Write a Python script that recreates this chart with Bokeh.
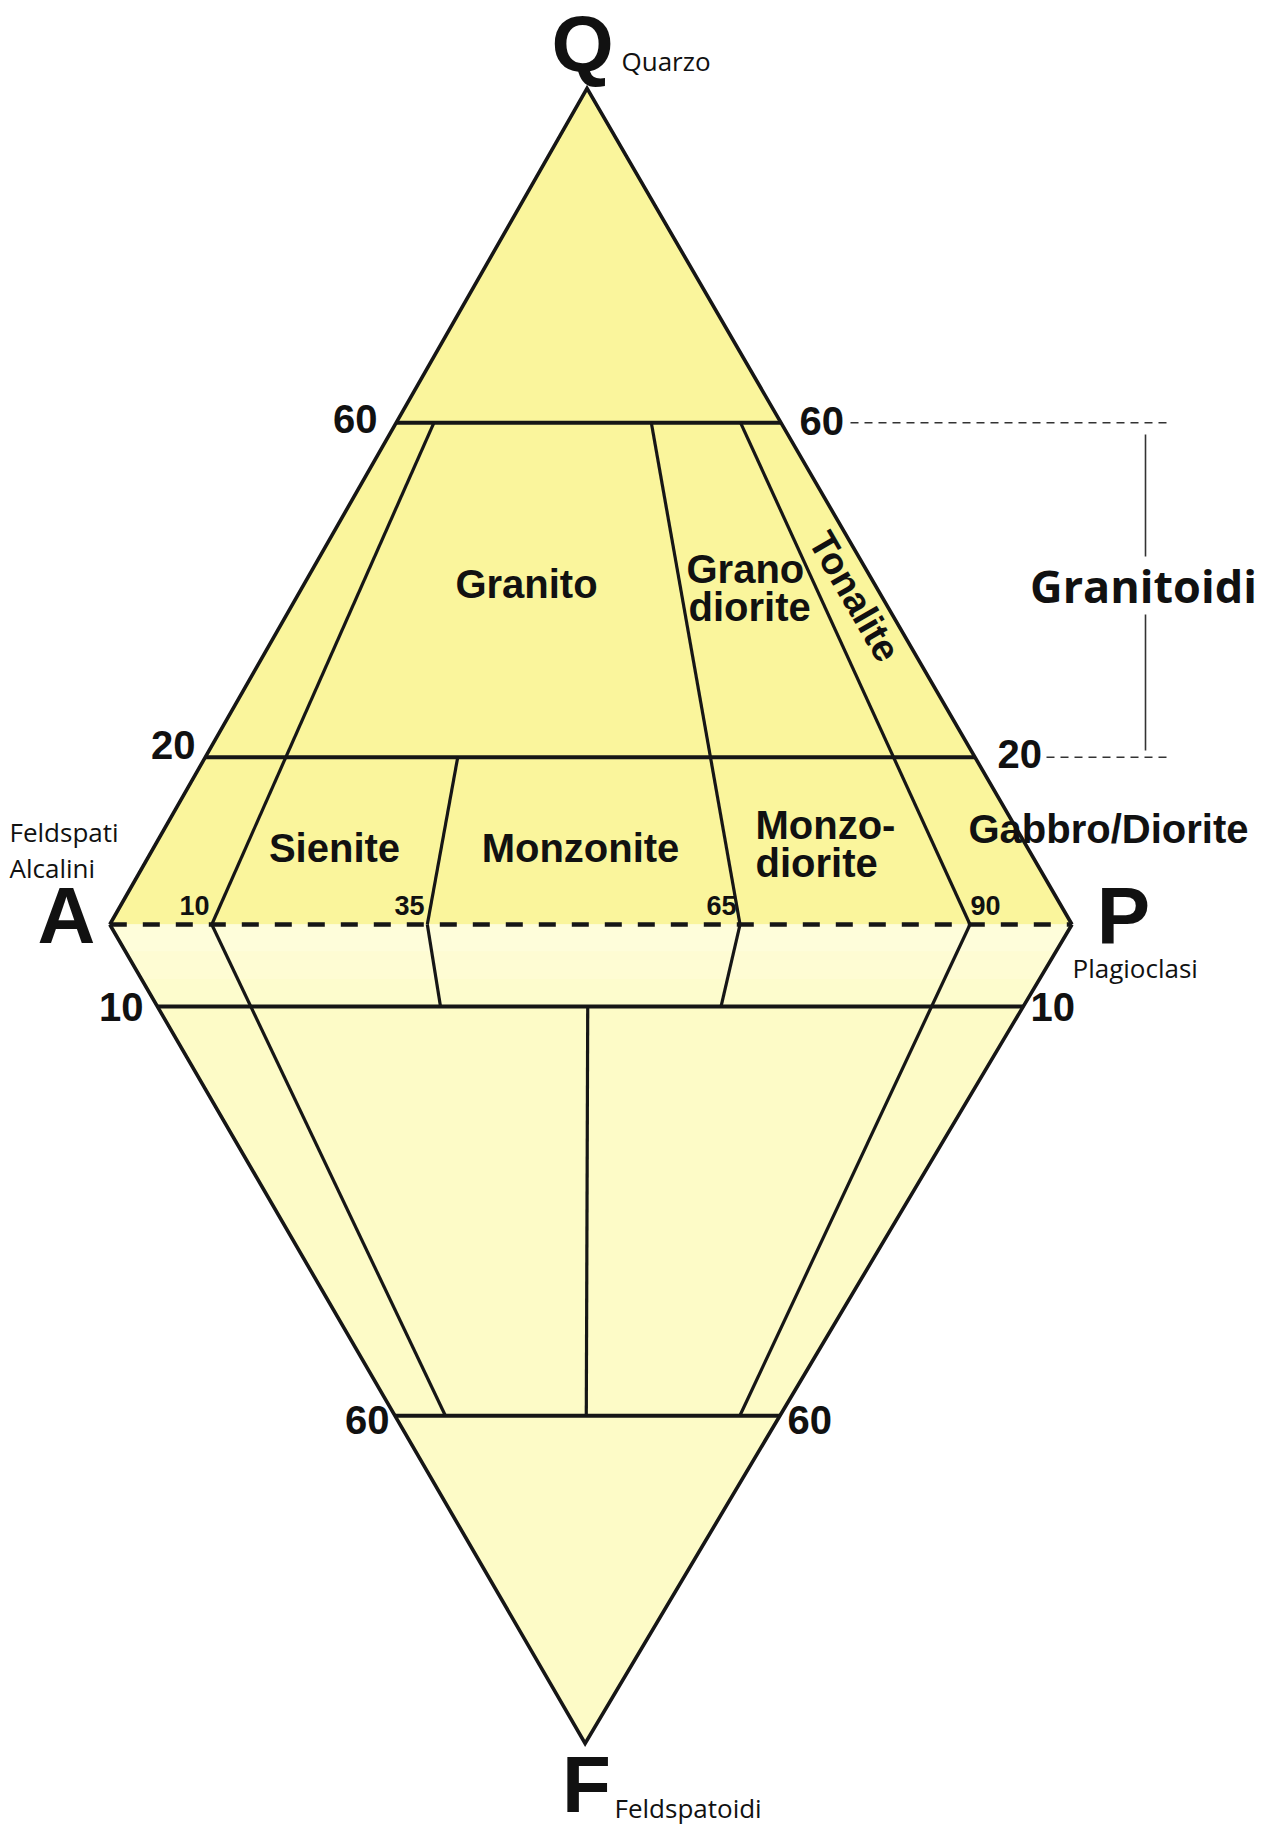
import numpy as np
from bokeh.plotting import figure
from bokeh.models import Range1d
from bokeh.embed import file_html
from bokeh.resources import INLINE
from bokeh.core.properties import value

# ---------------- data ----------------
# Ternary QAPF diagram. z > 0 : % Quarzo (upper triangle), z < 0 : -% Feldspatoidi (lower)
# r = 100 * P / (A + P)
q_levels = [60, 20]                 # horizontal boundaries, upper triangle
f_levels = [10, 60]                 # horizontal boundaries, lower triangle
ap_ticks = [10, 35, 65, 90]         # ratio ticks written on the A-P line
# boundary segments (z0, r0, z1, r1) as drawn
upper_seg_z0 = [0, 0, 0, 0]
upper_seg_r0 = [10.6, 33.0, 65.5, 89.4]
upper_seg_z1 = [60, 20, 60, 60]
upper_seg_r1 = [9.8, 32.8, 66.3, 89.5]
lower_seg_z0 = [0, 0, 0, 0, -10]
lower_seg_r0 = [10.6, 33.0, 65.5, 89.4, 49.7]
lower_seg_z1 = [-60, -10, -10, -60, -60]
lower_seg_r1 = [13.1, 32.7, 65.1, 89.6, 49.7]

vertex_letters = ["Q", "A", "P", "F"]
vertex_names = ["Quarzo", "Feldspati\nAlcalini", "Plagioclasi", "Feldspatoidi"]
field_names = ["Granito", "Grano\ndiorite", "Tonalite", "Sienite", "Monzonite",
               "Monzo-\ndiorite", "Gabbro/Diorite"]
group_name = "Granitoidi"
group_range = [60, 20]

# ---------------- geometry / layout ----------------
S = 9.622                   # page px per diagram unit (A-P = 100 units)
ORX, ORY = 109.3, 924.0     # page position of vertex A
W, H = 1263, 1843
A = (0.0, 0.0)
P = (100.0, 0.0)
Q = (49.6, 86.9)
F = (49.4, -85.1)


def pg(x, y):
    """page pixel -> data"""
    return ((x - ORX) / S, (ORY - y) / S)


def tern(z, r):
    apex = Q if z >= 0 else F
    t = abs(z) / 100.0
    bx = A[0] + r / 100.0 * (P[0] - A[0])
    return (t * apex[0] + (1 - t) * bx, t * apex[1])


p = figure(width=W, height=H, output_backend="svg", toolbar_location=None,
           x_range=Range1d((0 - ORX) / S, (W - ORX) / S),
           y_range=Range1d((ORY - H) / S, (ORY - 0) / S),
           min_border=0)
p.axis.visible = False
p.grid.visible = False
p.outline_line_color = None
p.background_fill_color = "white"
p.border_fill_color = "white"

UP_FILL = "#FAF59C"
LOW_FILL = "#FDFBC7"
INK = "#161616"

# fills
p.patch([A[0], Q[0], P[0]], [A[1], Q[1], P[1]], fill_color=UP_FILL, line_color=None)
p.patch([A[0], F[0], P[0]], [A[1], F[1], P[1]], fill_color=LOW_FILL, line_color=None)
# lighter band between the A-P line and the F = 10 line (fading toward the bottom)
band_cols = ["#FEFDDA", "#FEFCD3", "#FDFCCD"]
for i, c in enumerate(band_cols):
    z0, z1 = -i * 10 / len(band_cols), -(i + 1) * 10 / len(band_cols)
    a0, b0, b1, a1 = tern(z0, 0), tern(z0, 100), tern(z1, 100), tern(z1, 0)
    p.patch([a0[0], b0[0], b1[0], a1[0]], [a0[1], b0[1], b1[1], a1[1]],
            fill_color=c, line_color=None)

# horizontal boundaries
xs, ys = [], []
for z in q_levels:
    a, b = tern(z, 0), tern(z, 100)
    xs.append([a[0], b[0]]); ys.append([a[1], b[1]])
for f in f_levels:
    a, b = tern(-f, 0), tern(-f, 100)
    xs.append([a[0], b[0]]); ys.append([a[1], b[1]])
p.multi_line(xs, ys, line_color=INK, line_width=4)

# inner boundaries
xs, ys = [], []
for z0, r0, z1, r1 in zip(upper_seg_z0, upper_seg_r0, upper_seg_z1, upper_seg_r1):
    a, b = tern(z0, r0), tern(z1, r1)
    xs.append([a[0], b[0]]); ys.append([a[1], b[1]])
for z0, r0, z1, r1 in zip(lower_seg_z0, lower_seg_r0, lower_seg_z1, lower_seg_r1):
    a, b = tern(z0, r0), tern(z1, r1)
    xs.append([a[0], b[0]]); ys.append([a[1], b[1]])
p.multi_line(xs, ys, line_color=INK, line_width=3.2)

# outline
p.line([A[0], Q[0], P[0]], [A[1], Q[1], P[1]], line_color=INK, line_width=3.6, line_join="miter")
p.line([A[0], F[0], P[0]], [A[1], F[1], P[1]], line_color=INK, line_width=3.6, line_join="miter")
# dashed A-P
p.line([A[0], P[0]], [A[1], P[1]], line_color=INK, line_width=4.5, line_dash="17 16")

# Granitoidi bracket on the right
gx0, gx1 = pg(850, 0)[0], pg(1168, 0)[0]
gy_top = tern(group_range[0], 100)[1]
gy_bot = tern(group_range[1], 100)[1]
p.line([gx0, gx1], [gy_top, gy_top], line_color="#333333", line_width=1.6, line_dash="8 6")
p.line([pg(1046, 0)[0], gx1], [gy_bot, gy_bot], line_color="#333333", line_width=1.6, line_dash="8 6")
bx = pg(1145, 0)[0]
p.line([bx, bx], [pg(0, 434)[1], pg(0, 556)[1]], line_color="#333333", line_width=1.6)
p.line([bx, bx], [pg(0, 614)[1], pg(0, 750)[1]], line_color="#333333", line_width=1.6)

BASE_SHIFT = 0.39   # renderer puts the alphabetic baseline ~0.39 em lower


def txt(s, x, y, size, align="left", font="Liberation Sans", style="bold",
        baseline="alphabetic", angle=0, color="#111111"):
    if baseline == "alphabetic":
        y = y - BASE_SHIFT * size
    dx, dy = pg(x, y)
    p.text([dx], [dy], text=[s], text_font=value(font), text_font_style=style,
           text_font_size=f"{size}px", text_align=align, text_baseline=baseline,
           angle=angle, angle_units="deg", text_color=color)


# vertex letters and names
NS = 26
txt(vertex_letters[0], 582, 74, 80, align="center")
txt(vertex_names[0], 621, 71, NS, font="Open Sans", style="normal")
txt(vertex_letters[1], 66, 946, 80, align="center")
n1, n2 = vertex_names[1].split("\n")
txt(n1, 9, 842, NS, font="Open Sans", style="normal")
txt(n2, 9, 878, NS, font="Open Sans", style="normal")
txt(vertex_letters[2], 1123, 946, 80, align="center")
txt(vertex_names[2], 1072, 978, NS, font="Open Sans", style="normal")
txt(vertex_letters[3], 586, 1815, 80, align="center")
txt(vertex_names[3], 614, 1818, NS, font="Open Sans", style="normal")

# level numbers
LS = 40
txt(str(q_levels[0]), 377, 434, LS, align="right")
txt(str(q_levels[0]), 799, 436, LS)
txt(str(q_levels[1]), 195, 760, LS, align="right")
txt(str(q_levels[1]), 997, 769, LS)
txt(str(f_levels[0]), 143, 1022, LS, align="right")
txt(str(f_levels[0]), 1030, 1022, LS)
txt(str(f_levels[1]), 389, 1435, LS, align="right")
txt(str(f_levels[1]), 787, 1435, LS)

# ratio ticks on A-P
TS = 27
txt(str(ap_ticks[0]), 209, 916, TS, align="right")
txt(str(ap_ticks[1]), 424, 916, TS, align="right")
txt(str(ap_ticks[2]), 736, 916, TS, align="right")
txt(str(ap_ticks[3]), 970, 916, TS)

# field names
FS = 40
txt(field_names[0], 526, 599, FS, align="center")
g1, g2 = field_names[1].split("\n")
txt(g1, 686, 584, FS)
txt(g2, 688, 622, FS)
txt(field_names[2], 854, 596, 38, align="center", baseline="middle", angle=-60)
txt(field_names[3], 334, 863, FS, align="center")
txt(field_names[4], 580, 863, FS, align="center")
m1, m2 = field_names[5].split("\n")
txt(m1, 755, 840, FS)
txt(m2, 755, 878, FS)
txt(field_names[6], 968, 844, FS)

# group label
txt(group_name, 1143, 603, 45, align="center", font="Open Sans")

open("out.html", "w").write(file_html(p, INLINE))
